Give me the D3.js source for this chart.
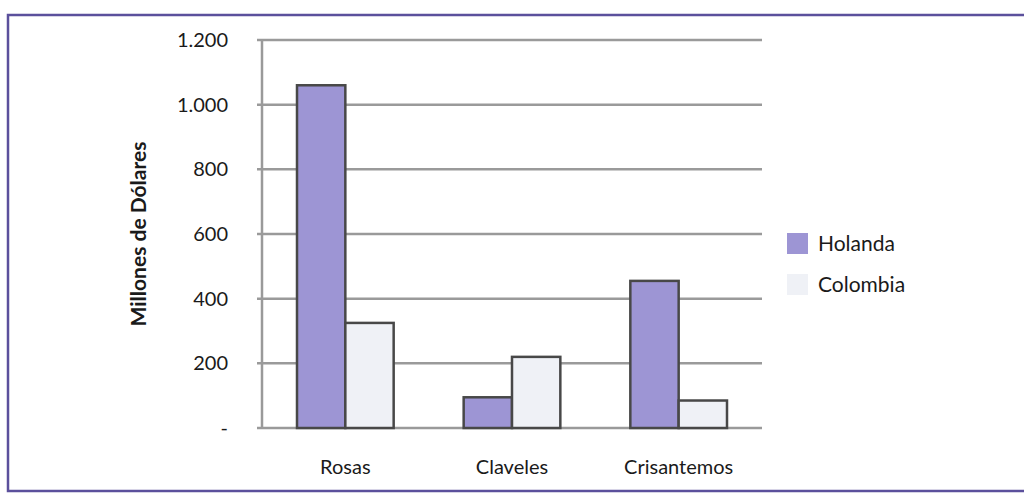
<!DOCTYPE html>
<html>
<head>
<meta charset="utf-8">
<script src="https://cdn.jsdelivr.net/npm/d3@7"></script>
<style>
  body { margin: 0; background: #fff; }
  svg { display: block; }
  text { font-family: Lato, "Open Sans", sans-serif; fill: #1a1a1a; }
  .grid line { stroke: #9a9a9a; stroke-width: 2.5; }
</style>
</head>
<body>
<svg id="chart" width="1024" height="500"></svg>
<script>
const categories = ['Rosas', 'Claveles', 'Crisantemos'];
const seriesNames = ['Holanda', 'Colombia'];
const holanda = [1060, 95, 455];
const colombia = [325, 220, 85];
const yTicks = [0, 200, 400, 600, 800, 1000, 1200];
const yTickLabels = ['-', '200', '400', '600', '800', '1.000', '1.200'];

const colors = ['#9d95d4', '#eff1f6'];

const svg = d3.select('#chart');
const margin = {left: 262, right: 262, top: 40, bottom: 72};
const width = 1024, height = 500;
const innerWidth = width - margin.left - margin.right;
const innerHeight = height - margin.top - margin.bottom;

// page frame, its right side runs off the picture
svg.append('path')
  .attr('d', 'M1024,15 H8 V491 H1024')
  .attr('fill', 'none')
  .attr('stroke', '#5b509c')
  .attr('stroke-width', 2.5);

// scales work in page coordinates
const yScale = d3.scaleLinear()
  .domain([0, 1200])
  .range([margin.top + innerHeight, margin.top]);

const x0 = d3.scaleBand()
  .domain(categories)
  .range([margin.left, margin.left + innerWidth])
  .paddingInner(0.42)
  .paddingOuter(0.21);

const x1 = d3.scaleBand()
  .domain(seriesNames)
  .range([0, x0.bandwidth()]);

const baseY = yScale(0);

// gridlines
svg.append('g')
  .attr('class', 'grid')
  .selectAll('line')
  .data(yTicks)
  .enter()
  .append('line')
    .attr('x1', margin.left - 5)
    .attr('x2', margin.left + innerWidth)
    .attr('y1', d => yScale(d))
    .attr('y2', d => yScale(d));

// y axis vertical line
svg.append('line')
  .attr('x1', margin.left).attr('x2', margin.left)
  .attr('y1', yScale(1200)).attr('y2', baseY)
  .attr('stroke', '#9a9a9a')
  .attr('stroke-width', 2.5);

// y tick labels
svg.append('g')
  .selectAll('text')
  .data(yTicks)
  .enter()
  .append('text')
    .attr('x', margin.left - 34)
    .attr('y', d => yScale(d))
    .attr('dy', '0.35em')
    .attr('text-anchor', 'end')
    .style('font-size', '20px')
    .text((d, i) => yTickLabels[i]);

// x labels
svg.append('g')
  .selectAll('text')
  .data(categories)
  .enter()
  .append('text')
    .attr('x', d => x0(d) + x0.bandwidth() / 2)
    .attr('y', baseY + 46)
    .attr('text-anchor', 'middle')
    .style('font-size', '20px')
    .text(d => d);

// y title
svg.append('text')
  .attr('transform', `translate(146, ${margin.top + innerHeight / 2}) rotate(-90)`)
  .attr('text-anchor', 'middle')
  .style('font-size', '21px')
  .style('font-weight', 'bold')
  .text('Millones de Dólares');

const rows = categories.map((c, i) => ({cat: c, values: [holanda[i], colombia[i]]}));

svg.selectAll('.group')
  .data(rows)
  .enter()
  .append('g')
    .attr('class', 'group')
  .selectAll('rect')
  .data(d => d.values.map((v, i) => ({cat: d.cat, name: seriesNames[i], value: v, i: i})))
  .enter()
  .append('rect')
    .attr('x', d => x0(d.cat) + x1(d.name))
    .attr('y', d => yScale(d.value))
    .attr('width', x1.bandwidth())
    .attr('height', d => baseY - yScale(d.value))
    .attr('fill', d => colors[d.i])
    .attr('stroke', '#484848')
    .attr('stroke-width', 2.5);

// legend
const legend = svg.append('g');

legend.selectAll('rect')
  .data(seriesNames)
  .enter()
  .append('rect')
    .attr('x', 787)
    .attr('y', (d, i) => 233 + i * 41)
    .attr('width', 21).attr('height', 21)
    .attr('fill', (d, i) => colors[i]);

legend.selectAll('text')
  .data(seriesNames)
  .enter()
  .append('text')
    .attr('x', 818)
    .attr('y', (d, i) => 251 + i * 41)
    .style('font-size', '21px')
    .text(d => d);
</script>
</body>
</html>
